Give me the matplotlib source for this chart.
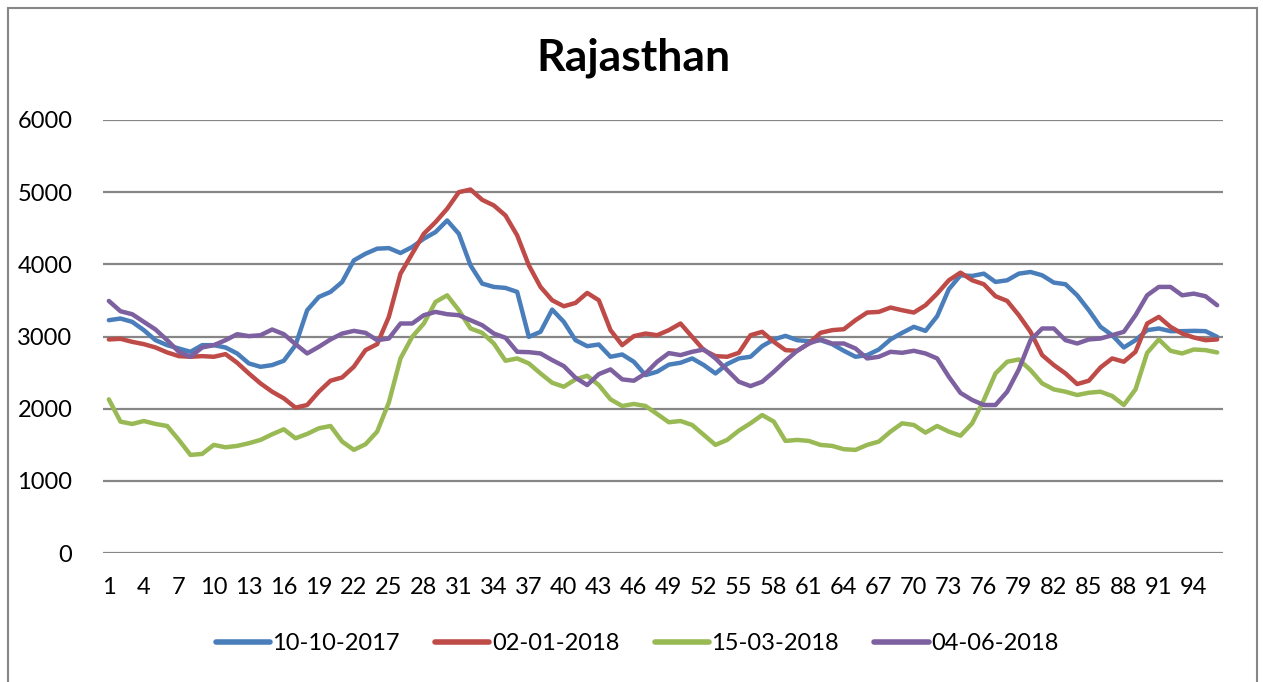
import matplotlib
matplotlib.use("Agg")

import matplotlib.pyplot as plt
from matplotlib.patches import Rectangle

plt.rcParams["font.family"] = ["Lato", "DejaVu Sans"]

title = "Rajasthan"
slots = list(range(1, 97))

labels = ["10-10-2017", "02-01-2018", "15-03-2018", "04-06-2018"]
colors = ["#4A7EBB", "#BE4B48", "#98B954", "#7D60A0"]

oct_2017 = [3226, 3249, 3203, 3088, 2949, 2880, 2834, 2788, 2880, 2880,
            2848, 2765, 2627, 2580, 2604, 2664, 2880, 3364, 3548, 3618,
            3756, 4055, 4147, 4217, 4225, 4157, 4240, 4355, 4447, 4608,
            4424, 3986, 3733, 3687, 3673, 3618, 2995, 3065, 3373, 3203,
            2949, 2866, 2889, 2719, 2751, 2650, 2465, 2512, 2610, 2636,
            2696, 2604, 2488, 2618, 2696, 2719, 2866, 2959, 3009, 2949,
            2935, 2949, 2894, 2802, 2719, 2742, 2820, 2959, 3051, 3134,
            3078, 3281, 3655, 3848, 3839, 3871, 3756, 3779, 3871, 3894,
            3848, 3747, 3724, 3571, 3364, 3134, 3018, 2848, 2949, 3088,
            3111, 3074, 3074, 3078, 3074, 2995]

jan_2018 = [2959, 2968, 2926, 2894, 2848, 2779, 2728, 2719, 2728, 2719,
            2756, 2636, 2488, 2350, 2235, 2143, 2014, 2051, 2235, 2387,
            2433, 2581, 2811, 2894, 3272, 3871, 4147, 4424, 4585, 4770,
            5000, 5037, 4894, 4816, 4677, 4401, 3986, 3687, 3502, 3419,
            3465, 3604, 3502, 3088, 2880, 3005, 3041, 3018, 3088, 3180,
            2995, 2811, 2728, 2719, 2774, 3018, 3065, 2926, 2811, 2802,
            2903, 3051, 3088, 3101, 3226, 3332, 3341, 3401, 3364, 3332,
            3433, 3594, 3779, 3885, 3779, 3724, 3558, 3493, 3295, 3065,
            2742, 2604, 2488, 2341, 2387, 2571, 2696, 2650, 2788, 3180,
            3272, 3134, 3041, 2986, 2949, 2959]

mar_2018 = [2129, 1820, 1788, 1829, 1788, 1760, 1567, 1359, 1373, 1498,
            1465, 1484, 1521, 1567, 1645, 1714, 1590, 1650, 1728, 1760,
            1544, 1429, 1507, 1682, 2085, 2696, 2995, 3180, 3479, 3571,
            3364, 3111, 3051, 2903, 2664, 2696, 2627, 2488, 2359, 2304,
            2406, 2456, 2327, 2129, 2037, 2065, 2037, 1926, 1812, 1829,
            1774, 1636, 1498, 1567, 1696, 1797, 1912, 1820, 1553, 1567,
            1553, 1498, 1484, 1438, 1429, 1498, 1544, 1682, 1797, 1774,
            1668, 1760, 1682, 1625, 1797, 2120, 2488, 2650, 2682, 2535,
            2350, 2267, 2235, 2189, 2221, 2235, 2175, 2051, 2267, 2774,
            2959, 2802, 2765, 2820, 2811, 2779]

jun_2018 = [3493, 3350, 3309, 3203, 3097, 2949, 2788, 2719, 2848, 2880,
            2949, 3032, 3005, 3018, 3097, 3032, 2894, 2765, 2857, 2959,
            3041, 3078, 3051, 2949, 2972, 3180, 3180, 3295, 3341, 3309,
            3295, 3226, 3157, 3041, 2982, 2788, 2783, 2765, 2673, 2590,
            2429, 2327, 2479, 2544, 2406, 2387, 2488, 2650, 2770, 2742,
            2788, 2820, 2696, 2535, 2373, 2313, 2373, 2512, 2664, 2802,
            2903, 2959, 2903, 2903, 2834, 2696, 2719, 2788, 2774, 2802,
            2765, 2696, 2442, 2218, 2120, 2051, 2051, 2235, 2544, 2949,
            3111, 3111, 2949, 2903, 2959, 2972, 3018, 3065, 3295, 3571,
            3687, 3687, 3571, 3594, 3558, 3433]

series = [oct_2017, jan_2018, mar_2018, jun_2018]
y_ticks = [0, 1000, 2000, 3000, 4000, 5000, 6000]

fig = plt.figure(figsize=(12.63, 6.82), dpi=100)
ax = fig.add_axes([103 / 1263, 1 - 553 / 682, 1120 / 1263, 433 / 682])

for vals, lab, col in zip(series, labels, colors):
    ax.plot(slots, vals, color=col, lw=3.2, label=lab, solid_capstyle="round",
            solid_joinstyle="round")

ax.set_xlim(0.5, 96.5)
ax.set_ylim(0, 6000)
ax.set_yticks(y_ticks)
ax.set_xticks(slots[::3])
ax.tick_params(length=0, labelsize=17, colors="black")
ax.tick_params(axis="y", pad=22)
ax.tick_params(axis="x", pad=17)
ax.grid(True, axis="y", color="#868686", lw=1.6)
ax.set_axisbelow(True)
for s in ax.spines.values():
    s.set_visible(False)

fig.text(633 / 1263, 1 - 58 / 682, title, ha="center", va="center",
         fontsize=32, fontweight="bold")

leg = ax.legend(loc="center", bbox_to_anchor=(637 / 1263, 1 - 644 / 682),
                bbox_transform=fig.transFigure, ncol=4, frameon=False,
                fontsize=17, handlelength=2.3, handletextpad=0.1,
                columnspacing=1.5)
for h in leg.get_lines():
    h.set_linewidth(4)

# chart frame
fig.patches.append(Rectangle((8 / 1263, -0.05), 1249 / 1263, 1.05 - 8 / 682,
                             transform=fig.transFigure, fill=False,
                             edgecolor="#868686", lw=1.5))

fig.savefig("out.png", dpi=100)
